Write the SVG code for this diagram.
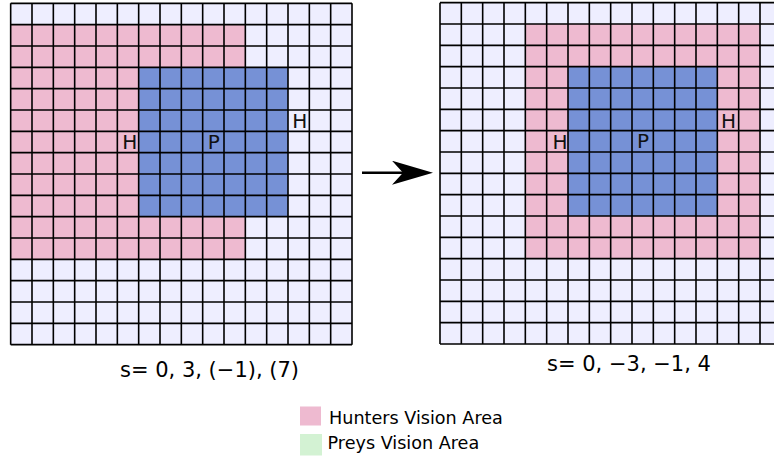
<svg xmlns="http://www.w3.org/2000/svg" width="774" height="459" viewBox="0 0 774 459">
<style>
.bg{fill:#EEEEFF}
.hunt{fill:#EEBAD0}
.prey{fill:#7691D6}
.pv{fill:#D3F2D3}
.grid{fill:none;stroke:#000;stroke-width:1.6}
.lbl{font-family:"DejaVu Sans",sans-serif;font-size:20px;fill:#111;text-anchor:middle}
.cap{font-family:"DejaVu Sans",sans-serif;font-size:21px;fill:#000;text-anchor:middle}
.leg{font-family:"DejaVu Sans",sans-serif;font-size:17.6px;fill:#000}
.conn{stroke:#000;stroke-width:2.5;fill:none}
</style>
<defs>
<path id="gridlines" class="grid" d="M0 0V341.33M21.33 0V341.33M42.67 0V341.33M64 0V341.33M85.33 0V341.33M106.67 0V341.33M128 0V341.33M149.33 0V341.33M170.67 0V341.33M192 0V341.33M213.33 0V341.33M234.67 0V341.33M256 0V341.33M277.33 0V341.33M298.67 0V341.33M320 0V341.33M341.33 0V341.33M0 0H341.33M0 21.33H341.33M0 42.67H341.33M0 64H341.33M0 85.33H341.33M0 106.67H341.33M0 128H341.33M0 149.33H341.33M0 170.67H341.33M0 192H341.33M0 213.33H341.33M0 234.67H341.33M0 256H341.33M0 277.33H341.33M0 298.67H341.33M0 320H341.33M0 341.33H341.33"/>
<marker id="arrowhead" viewBox="0 0 41 24" markerWidth="41" markerHeight="24" markerUnits="userSpaceOnUse" refX="11" refY="12" orient="auto">
<path d="M0,0 L41,12 L0,24 L11,12 Z" fill="#000"/>
</marker>
</defs>
<g id="grid-before" transform="translate(10.67,3.33)">
<rect class="bg" x="0" y="0" width="341.33" height="341.33"/>
<rect class="hunt" x="0" y="21.33" width="234.67" height="234.67"/>
<rect class="prey" x="128" y="64" width="149.33" height="149.33"/>
<use href="#gridlines"/>
<text class="lbl" x="119" y="146">H</text>
<text class="lbl" x="203" y="145.5">P</text>
<text class="lbl" x="289" y="125">H</text>
</g>
<g id="grid-after" transform="translate(440,2.67)">
<rect class="bg" x="0" y="0" width="341.33" height="341.33"/>
<rect class="hunt" x="85.33" y="21.33" width="234.67" height="234.67"/>
<rect class="prey" x="128" y="64" width="149.33" height="149.33"/>
<use href="#gridlines"/>
<text class="lbl" x="120" y="146">H</text>
<text class="lbl" x="203" y="145.5">P</text>
<text class="lbl" x="288.5" y="125">H</text>
</g>
<g id="connectors">
<line class="conn" x1="362" y1="172.7" x2="403" y2="172.7" marker-end="url(#arrowhead)"/>
</g>
<g id="caption-before"><text class="cap" x="209.5" y="377">s= 0, 3, (−1), (7)</text></g>
<g id="caption-after"><text class="cap" x="629" y="371">s= 0, −3, −1, 4</text></g>
<g id="legend">
<rect class="hunt" x="300" y="406.5" width="21" height="19"/>
<text class="leg" x="329" y="424">Hunters Vision Area</text>
<rect class="pv" x="300" y="434" width="22" height="21.5"/>
<text class="leg" x="327.5" y="449">Preys Vision Area</text>
</g>
</svg>
